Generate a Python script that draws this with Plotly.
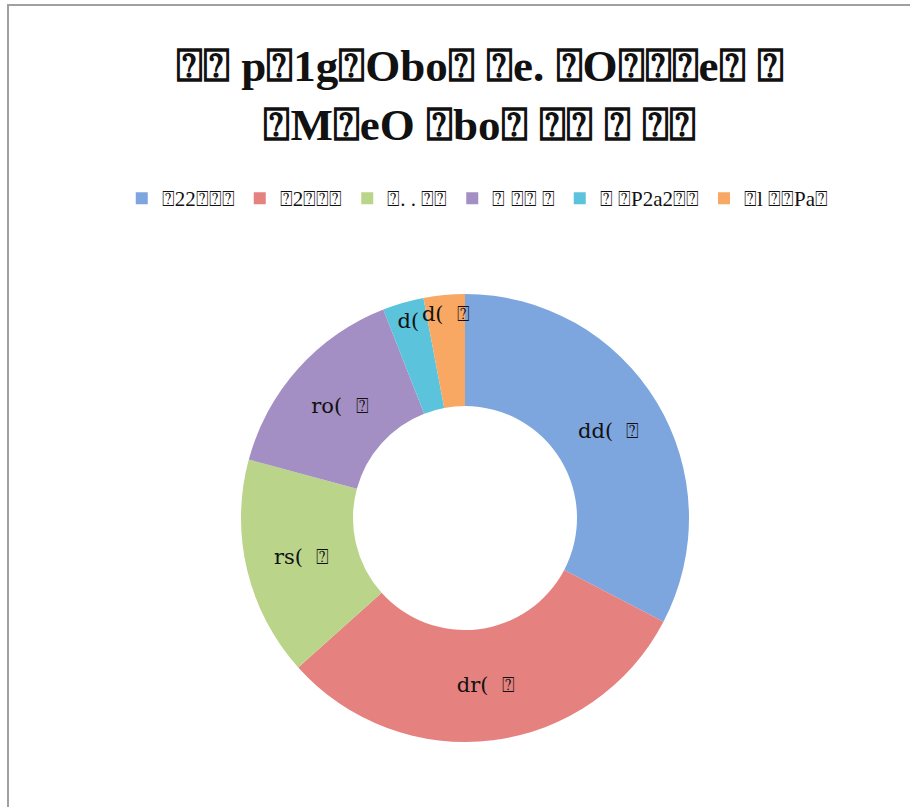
import plotly.graph_objects as go

B = "\u2370"  # boxed question mark, mimicking missing glyph boxes

categories = [
    f"{B}22{B}{B}{B}",
    f"{B}2{B}{B}{B}",
    f"{B}. . {B}{B}",
    f"{B} {B}{B} {B}",
    f"{B} {B}P2a2{B}{B}",
    f"{B}l {B}{B}Pa{B}",
]
values = [33, 31, 16, 15, 3, 3]
slice_text = [f"dd(  {B}", f"dr(  {B}", f"rs(  {B}", f"ro(  {B}", "d(", f"d(  {B}"]
colors = ["#7ea6de", "#e5817f", "#bad489", "#a38fc3", "#5cc3dc", "#f8a863"]

title_lines = [
    f"{B}{B} p{B}1g{B}Obo{B} {B}e. {B}O{B}{B}{B}e{B} {B}",
    f"{B}M{B}eO {B}bo{B} {B}{B} {B} {B}{B}",
]

W, H = 910, 807
cx, cy, R = 465, 518, 224

fig = go.Figure(go.Pie(
    labels=categories,
    values=values,
    text=slice_text,
    texttemplate="%{text}",
    textposition="inside",
    insidetextorientation="horizontal",
    hole=0.5,
    sort=False,
    direction="clockwise",
    rotation=0,
    marker=dict(colors=colors, line=dict(width=0)),
    textfont=dict(family="DejaVu Serif", size=21, color="#111111"),
    domain=dict(x=[(cx - R) / W, (cx + R) / W], y=[(H - cy - R) / H, (H - cy + R) / H]),
))

fig.update_layout(
    width=W, height=H,
    margin=dict(l=0, r=0, t=0, b=0),
    paper_bgcolor="white",
    plot_bgcolor="white",
    uniformtext=dict(minsize=21, mode="show"),
    annotations=[dict(
        text="<br>".join(title_lines),
        xref="paper", yref="paper",
        x=0.528, xanchor="center",
        y=1 - 95 / H, yanchor="middle",
        showarrow=False, align="center",
        font=dict(family="Liberation Serif", size=45, color="#111111", weight="bold"),
    )],
    legend=dict(
        orientation="h",
        x=0.525, xanchor="center",
        y=1 - 178 / H, yanchor="top",
        font=dict(family="Liberation Serif", size=21, color="#111111"),
        itemsizing="constant",
        traceorder="normal",
    ),
    shapes=[dict(
        type="rect", xref="paper", yref="paper",
        x0=8 / W, x1=1.01, y0=-0.01, y1=1 - 5 / H,
        line=dict(color="#a0a0a0", width=2), fillcolor="rgba(0,0,0,0)",
    )],
)

fig.write_html("out.html")
